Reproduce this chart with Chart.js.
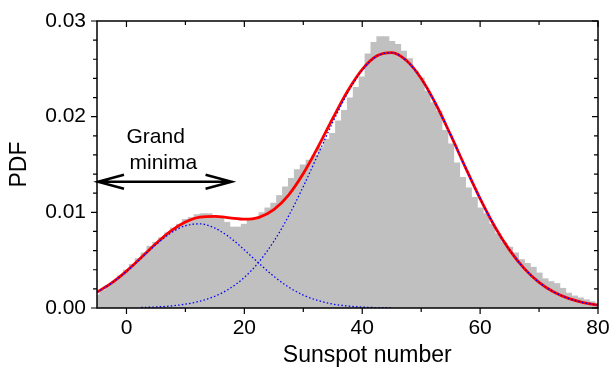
<!DOCTYPE html>
<html>
<head>
<meta charset="utf-8">
<script src="https://cdn.jsdelivr.net/npm/chart.js@4.4.1/dist/chart.umd.min.js"></script>
<style>
  html, body { margin: 0; padding: 0; background: #fff; }
  #wrap { width: 610px; height: 373px; }
</style>
</head>
<body>
<div id="wrap"><canvas id="chart" width="610" height="373"></canvas></div>
<script>
// histogram: one bin per sunspot number, first bin centred at -5
const binStart = -5;
const histValues = [
  0.0014, 0.0019, 0.0024, 0.0028, 0.0034,
  0.0040, 0.0046, 0.0052, 0.0058, 0.0065, 0.0069, 0.0074, 0.0079, 0.0084, 0.0088,
  0.0093, 0.0095, 0.0098, 0.0099, 0.0099, 0.0097, 0.0096, 0.0090, 0.0085, 0.0085,
  0.0088, 0.0092, 0.0095, 0.0100, 0.0105, 0.0110, 0.0118, 0.0127, 0.0136, 0.0145,
  0.0150, 0.0155, 0.0160, 0.0168, 0.0177, 0.0183, 0.0196, 0.0207, 0.0220, 0.0231,
  0.0242, 0.0266, 0.0278, 0.0284, 0.0284, 0.0279, 0.0276, 0.0269, 0.0261, 0.0248,
  0.0241, 0.0227, 0.0215, 0.0206, 0.0186, 0.0172, 0.0152, 0.0137, 0.0126, 0.0116,
  0.0105, 0.0099, 0.0088, 0.0078, 0.0069, 0.0064, 0.0058, 0.0051, 0.0047, 0.0043,
  0.0037, 0.0031, 0.0028, 0.0026, 0.0021, 0.0016, 0.0013, 0.0011, 0.0009, 0.0007,
  0.0005
];

// fitted curves, read every 2.5 units
const curveX = [-5, -2.5, 0, 2.5, 5, 7.5, 10, 12.5, 15, 17.5, 20, 22.5, 25, 27.5, 30, 32.5,
  35, 37.5, 40, 42.5, 45, 47.5, 50, 52.5, 55, 57.5, 60, 62.5, 65, 67.5, 70, 72.5, 75, 77.5, 80];
const totalFit = [0.00166, 0.00262, 0.00385, 0.00527, 0.00674, 0.00804, 0.00900, 0.00951,
  0.00958, 0.00942, 0.00928, 0.00948, 0.01028, 0.01180, 0.01405, 0.01683, 0.01982, 0.02266,
  0.02495, 0.02637, 0.02670, 0.02587, 0.02399, 0.02130, 0.01809, 0.01470, 0.01143, 0.00850,
  0.00605, 0.00412, 0.00268, 0.00167, 0.00100, 0.00057, 0.00031];
const minimaFit = [0.00166, 0.00261, 0.00383, 0.00522, 0.00663, 0.00783, 0.00860, 0.00879,
  0.00835, 0.00739, 0.00608, 0.00465, 0.00331, 0.00219, 0.00135, 0.00078, 0.00041, 0.00021,
  0.00009, 0.00004, 0.00002, null, null, null, null, null, null, null, null, null, null,
  null, null, null, null];
const regularFit = [null, null, null, 0.00005, 0.00011, 0.00021, 0.00040, 0.00072, 0.00123,
  0.00203, 0.00320, 0.00483, 0.00697, 0.00961, 0.01270, 0.01605, 0.01941, 0.02245, 0.02486,
  0.02633, 0.02668, 0.02586, 0.02399, 0.02130, 0.01809, 0.01470, 0.01143, 0.00850, 0.00605,
  0.00412, 0.00268, 0.00167, 0.00100, 0.00057, 0.00031];

// ticks
const xTicks = [0, 20, 40, 60, 80];
const xMinor = [10, 30, 50, 70];
const yTicks = [0, 0.01, 0.02, 0.03];
const yMinor = [0.002, 0.004, 0.006, 0.008, 0.012, 0.014, 0.016, 0.018, 0.022, 0.024, 0.026, 0.028];

// "Grand minima" arrow
const arrowFrom = -5;
const arrowTo = 18;
const arrowY = 0.0132;

const FONT = "'Liberation Sans', Arial, sans-serif";

function pts(xs, ys) {
  return xs.map((x, i) => ({ x: x, y: ys[i] }));
}

const histData = histValues.map((v, i) => ({ x: binStart + i, y: v }));

const framePlugin = {
  id: 'frame',
  afterDatasetsDraw(chart) {
    const { ctx, chartArea: a, scales: { x, y } } = chart;
    ctx.save();
    ctx.strokeStyle = '#000';
    ctx.lineWidth = 1.5;
    ctx.strokeRect(a.left, a.top, a.right - a.left, a.bottom - a.top);

    ctx.lineWidth = 1.2;
    ctx.beginPath();
    function xt(list, len) {
      list.forEach(v => {
        const px = x.getPixelForValue(v);
        ctx.moveTo(px, a.bottom); ctx.lineTo(px, a.bottom + len);
        ctx.moveTo(px, a.top); ctx.lineTo(px, a.top + len);
      });
    }
    function yt(list, len) {
      list.forEach(v => {
        const py = y.getPixelForValue(v);
        ctx.moveTo(a.left, py); ctx.lineTo(a.left - len, py);
        ctx.moveTo(a.right, py); ctx.lineTo(a.right - len, py);
      });
    }
    xt(xTicks, 6);
    xt(xMinor, 4);
    yt(yTicks, 6);
    yt(yMinor, 4);
    ctx.stroke();

    // arrow
    const x1 = x.getPixelForValue(arrowFrom);
    const x2 = x.getPixelForValue(arrowTo);
    const py = y.getPixelForValue(arrowY);
    ctx.lineWidth = 2.5;
    ctx.lineCap = 'butt';
    ctx.beginPath();
    ctx.moveTo(x1, py); ctx.lineTo(x2, py);
    ctx.moveTo(x1 + 27, py - 7); ctx.lineTo(x1 + 1, py); ctx.lineTo(x1 + 27, py + 7);
    ctx.moveTo(x2 - 27, py - 7); ctx.lineTo(x2 - 1, py); ctx.lineTo(x2 - 27, py + 7);
    ctx.stroke();

    ctx.fillStyle = '#000';
    ctx.font = '21px ' + FONT;
    ctx.textAlign = 'left';
    ctx.textBaseline = 'middle';
    const tx = x.getPixelForValue(0);
    ctx.fillText('Grand', tx, py - 45);
    ctx.fillText('minima', tx + 3, py - 19);

    // x axis title, sits a little right of the plot centre in the original
    ctx.font = '23px ' + FONT;
    ctx.textAlign = 'center';
    ctx.fillText('Sunspot number', x.getPixelForValue(40) + 5, 356);
    ctx.restore();
  }
};

new Chart(document.getElementById('chart'), {
  type: 'bar',
  data: {
    datasets: [
      {
        type: 'line',
        label: 'minima',
        data: pts(curveX, minimaFit),
        borderColor: '#0000ff',
        borderWidth: 1.3,
        borderDash: [1.5, 2.2],
        pointRadius: 0,
        cubicInterpolationMode: 'monotone',
        order: 0
      },
      {
        type: 'line',
        label: 'regular',
        data: pts(curveX, regularFit),
        borderColor: '#0000ff',
        borderWidth: 1.3,
        borderDash: [1.5, 2.2],
        pointRadius: 0,
        cubicInterpolationMode: 'monotone',
        order: 0
      },
      {
        type: 'line',
        label: 'total',
        data: pts(curveX, totalFit),
        borderColor: '#ff0000',
        borderWidth: 2.8,
        pointRadius: 0,
        cubicInterpolationMode: 'monotone',
        order: 1
      },
      {
        label: 'histogram',
        data: histData,
        backgroundColor: '#c0c0c0',
        borderWidth: 0,
        barPercentage: 1.2,
        categoryPercentage: 1,
        clip: 0,
        order: 2
      }
    ]
  },
  options: {
    responsive: false,
    animation: false,
    devicePixelRatio: 1,
    layout: { padding: { top: 21, right: 12, left: 0, bottom: 0 } },
    plugins: { legend: { display: false }, tooltip: { enabled: false } },
    scales: {
      x: {
        type: 'linear',
        min: -5,
        max: 80,
        offset: false,
        grid: { display: false, drawTicks: false },
        border: { display: false },
        afterBuildTicks: s => { s.ticks = xTicks.map(v => ({ value: v })); },
        afterFit: s => { s.height = 65; s.paddingLeft = 0; s.paddingRight = 0; },
        ticks: { color: '#000', padding: 8, maxRotation: 0, font: { family: FONT, size: 21 } },
        title: { display: false }
      },
      y: {
        min: 0,
        max: 0.03,
        grid: { display: false, drawTicks: false },
        border: { display: false },
        afterBuildTicks: s => { s.ticks = yTicks.map(v => ({ value: v })); },
        afterFit: s => { s.width = 97; s.paddingTop = 0; s.paddingBottom = 0; },
        ticks: {
          color: '#000',
          padding: 11,
          font: { family: FONT, size: 21 },
          callback: v => v.toFixed(2)
        },
        title: {
          display: true,
          text: 'PDF',
          color: '#000',
          font: { family: FONT, size: 23 },
          padding: { top: 6, bottom: 0 }
        }
      }
    }
  },
  plugins: [framePlugin]
});
</script>
</body>
</html>
